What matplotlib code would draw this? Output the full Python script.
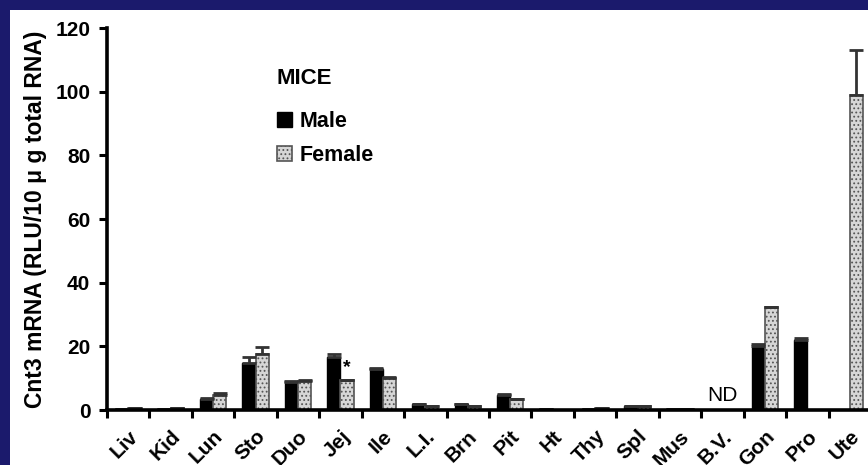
import numpy as np
import matplotlib
matplotlib.use("Agg")
import matplotlib.pyplot as plt
from matplotlib.patches import Rectangle

# tissues and Cnt3 values
tissues = ["Liv", "Kid", "Lun", "Sto", "Duo", "Jej", "Ile", "L.I.", "Brn",
           "Pit", "Ht", "Thy", "Spl", "Mus", "B.V.", "Gon", "Pro", "Ute"]
male = [0.3, 0.2, 3.3, 14.8, 8.8, 16.8, 12.8, 1.8, 1.8,
        4.6, 0.2, 0.3, 1.2, 0.3, 0.0, 20.2, 22.0, 0.0]
female = [0.6, 0.5, 4.8, 17.5, 9.0, 9.5, 10.2, 1.2, 1.3,
          3.6, 0.1, 0.6, 1.2, 0.3, 0.0, 32.3, 0.0, 99.0]
male_err = [0, 0, 0.4, 1.8, 0.3, 0.9, 0.3, 0, 0,
            0.3, 0, 0, 0, 0, 0, 0.5, 0.5, 0]
female_err = [0, 0, 0.6, 2.3, 0.3, 0, 0.3, 0, 0,
              0, 0, 0, 0, 0, 0, 0, 0, 14.0]

W, H = 868, 465
NAVY = "#1b1a6c"
FONT = "Liberation Sans"
plt.rcParams["hatch.color"] = "#c4c4c4"
plt.rcParams["hatch.linewidth"] = 0.8

fig = plt.figure(figsize=(W / 100, H / 100), dpi=100, facecolor=NAVY)
# white slide area
fig.patches.append(Rectangle((10 / W, 0), 1, (H - 10) / H, transform=fig.transFigure,
                             facecolor="white", edgecolor="none", zorder=-5))

ax = fig.add_axes([107 / W, 1 - 410 / H, (871 - 107) / W, (410 - 28) / H])
ax.set_facecolor("none")

x = np.arange(len(tissues))
bw = 0.31
ax.bar(x - bw / 2, male, bw, color="black", edgecolor="black", linewidth=1, zorder=3,
       label="Male")
ax.bar(x + bw / 2, female, bw, color="#d6d6d6", edgecolor="#555555", linewidth=1.2,
       hatch="....", zorder=3, label="Female")

ax.errorbar(x - bw / 2, male, yerr=[np.zeros(len(male)), male_err], fmt="none",
            ecolor="#333333", elinewidth=2, capsize=5, capthick=2, zorder=4)
ax.errorbar(x + bw / 2, female, yerr=[np.zeros(len(female)), female_err], fmt="none",
            ecolor="#333333", elinewidth=2, capsize=5, capthick=2, zorder=4)

ax.text(5 + bw / 2, 10.5, "*", ha="center", va="bottom", fontsize=14,
        fontfamily=FONT, fontweight="bold")
ax.text(14, 1.6, "ND", ha="center", va="bottom", fontsize=15, fontfamily=FONT)

ax.set_xlim(-0.5, len(tissues) - 0.5)
ax.set_ylim(0, 120)
ax.set_yticks(np.arange(0, 121, 20))
ax.set_xticks(x)
ax.set_xticks(np.arange(-0.5, len(tissues), 1), minor=True)
ax.set_xticklabels(tissues, rotation=45, ha="right", rotation_mode="anchor",
                   fontsize=15, fontfamily=FONT, fontweight="bold")
for lab in ax.get_yticklabels():
    lab.set_fontsize(15)
    lab.set_fontfamily(FONT)
    lab.set_fontweight("bold")
ax.tick_params(axis="x", which="major", length=0, pad=12)
ax.tick_params(axis="x", which="minor", length=6, width=2.2, direction="out")
ax.tick_params(axis="y", length=6, width=2.2, direction="out", pad=6)

for s in ["top", "right"]:
    ax.spines[s].set_visible(False)
for s in ["left", "bottom"]:
    ax.spines[s].set_linewidth(2.6)
ax.spines["bottom"].set_zorder(5)

ax.set_ylabel("Cnt3 mRNA (RLU/10 \u03bc g total RNA)", fontsize=16.5,
              fontfamily=FONT, fontweight="bold", labelpad=6)

# legend title placed on its own, entries below it
fig.text(276 / W, 1 - 79 / H, "MICE", ha="left", va="center", fontsize=16,
         fontfamily=FONT, fontweight="bold")
leg = ax.legend(loc="upper left",
                bbox_to_anchor=(266 / W, 1 - 100 / H), bbox_transform=fig.transFigure,
                frameon=False, handlelength=0.7, handleheight=0.7,
                handletextpad=0.35, labelspacing=0.62, borderpad=0,
                prop={"family": FONT, "weight": "bold", "size": 15.5})

fig.savefig("out.png", dpi=100, facecolor=NAVY)
